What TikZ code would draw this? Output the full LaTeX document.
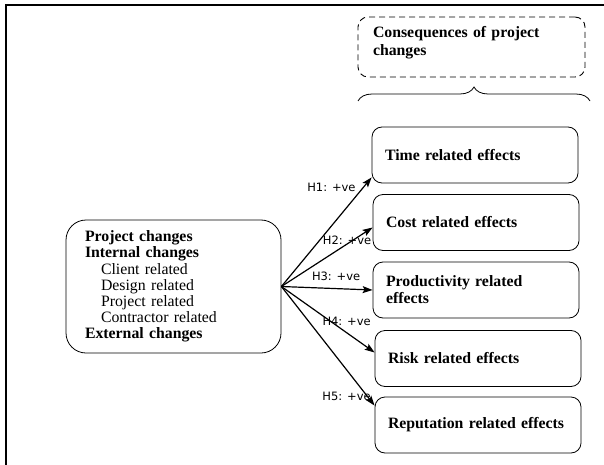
\documentclass[tikz,border=0pt]{standalone}
\usepackage{fontspec}
\setmainfont{Liberation Serif}
\newfontfamily\lblfont{DejaVu Sans}
\usetikzlibrary{arrows.meta,decorations.pathreplacing}

\begin{document}
\begin{tikzpicture}[x=1pt, y=-1pt,
  ebox/.style={rectangle, rounded corners=10pt, draw, line width=0.8pt,
               minimum width=206pt, minimum height=56pt, text width=180pt,
               inner xsep=13pt, align=left,
               font=\fontsize{15.8}{17}\selectfont\bfseries},
  cbox/.style={rectangle, rounded corners=20pt, draw, line width=0.8pt,
               minimum width=215pt, minimum height=133pt, text width=177pt,
               inner xsep=19pt, align=left,
               font=\fontsize{15.8}{16.2}\selectfont},
  hbox/.style={rectangle, rounded corners=10pt, draw, line width=0.9pt,
               dash pattern=on 6pt off 4pt, minimum width=227pt,
               minimum height=60pt, text width=197pt, inner xsep=15pt,
               align=left, font=\fontsize{15.8}{18}\selectfont\bfseries},
  lbl/.style={font=\lblfont\fontsize{11.5}{12}\selectfont, inner sep=1pt},
  arr/.style={-{Stealth[length=10pt, width=7pt, inset=2pt]}, line width=1.2pt}
]
\useasboundingbox (0,0) rectangle (604,465);

% Frame
\draw[line width=2.5pt] (6,465) -- (6,5) -- (604,5);

% Heading and brace
\node[hbox] (cons) at (471.5,47) {Consequences of project\\changes\rule[-12pt]{0pt}{1pt}};
\coordinate (bl) at (358,101);
\coordinate (br) at (590,101);
\draw[line width=0.8pt, decorate, decoration={brace, amplitude=14pt}] (bl) -- (br);

% Project changes (left)
\node[cbox] (chg) at (173.5,286.5)
  {\textbf{Project changes}\\
   \textbf{Internal changes}\\
   \hspace*{16pt}Client related\\
   \hspace*{16pt}Design related\\
   \hspace*{16pt}Project related\\
   \hspace*{16pt}Contractor related\\
   \textbf{External changes}};

% Effects (right)
\node[ebox] (time) at (475,155)   {Time related effects};
\node[ebox] (cost) at (476,222.5) {Cost related effects};
\node[ebox] (prod) at (476,290)   {Productivity related\\effects};
\node[ebox] (risk) at (478,358.5) {Risk related effects};
\node[ebox] (rept) at (478,425)   {Reputation related effects};

% Hypotheses
\draw[arr] (chg.east) -- ([yshift=6pt]time.south west)
  node[lbl, pos=.84, anchor=south east, yshift=2pt] {H1: +ve};
\draw[arr] (chg.east) -- ([yshift=-5pt]cost.west)
  node[lbl, pos=.72, yshift=4pt] {H2: +ve};
\draw[arr] (chg.east) -- (prod.west)
  node[lbl, pos=.6, yshift=12pt] {H3: +ve};
\draw[arr] (chg.east) -- ([yshift=6pt]risk.west)
  node[lbl, pos=.7, yshift=11pt] {H4: +ve};
\draw[arr] (chg.east) -- ([yshift=-9pt]rept.north west)
  node[lbl, pos=.975, anchor=east, yshift=6pt] {H5: +ve};
\end{tikzpicture}
\end{document}
